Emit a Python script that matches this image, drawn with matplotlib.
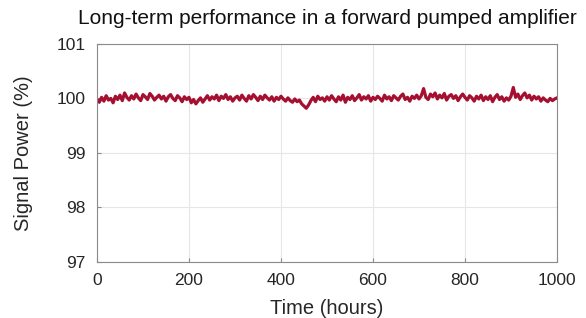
import numpy as np
import matplotlib.pyplot as plt

plt.rcParams['font.family'] = ['Liberation Sans', 'DejaVu Sans']

# time in hours, one reading every 5 h
hours = np.arange(0, 1001, 5)
# signal power (%)
power = [
    99.98, 99.93, 100.02, 99.95, 100.05, 99.97, 100.00, 99.92, 100.04, 99.98, 100.06,
    99.96, 100.10, 100.02, 99.97, 100.05, 99.99, 100.08, 100.01, 99.96, 100.07,
    100.03, 99.98, 100.09, 100.04, 99.97, 100.02, 100.06, 99.99, 100.04, 99.95,
    100.03, 100.07, 100.00, 99.96, 100.05, 100.01, 99.94, 100.03, 99.98, 100.02,
    99.92, 99.98, 99.90, 99.96, 100.01, 99.93, 99.99, 100.05, 99.97, 100.03,
    99.99, 100.06, 99.96, 100.04, 100.00, 100.07, 99.98, 100.03, 99.95, 100.01,
    100.04, 99.97, 100.06, 100.00, 99.95, 100.05, 99.99, 100.07, 100.02, 99.96,
    100.04, 99.98, 100.06, 100.01, 99.97, 100.03, 99.95, 100.02, 99.98, 100.04,
    99.99, 99.95, 100.01, 99.96, 99.93, 99.99, 99.94, 99.97, 99.90, 99.86,
    99.82, 99.88, 99.96, 100.02, 99.94, 100.04, 99.98, 100.01, 99.95, 100.03,
    99.97, 100.05, 99.99, 99.94, 100.03, 99.97, 100.06, 99.93, 100.02, 99.98,
    100.05, 99.96, 100.01, 100.07, 99.97, 100.03, 99.99, 100.05, 99.95, 100.02,
    99.98, 100.04, 100.00, 99.95, 100.06, 99.99, 100.03, 99.96, 100.05, 100.01,
    99.97, 100.04, 100.08, 99.98, 100.02, 99.95, 100.04, 100.00, 100.06, 99.99,
    100.05, 100.18, 100.02, 99.98, 100.08, 100.03, 100.10, 99.99, 100.06, 100.01,
    100.09, 99.97, 100.04, 100.07, 100.00, 100.05, 99.96, 100.03, 100.08, 100.02,
    99.97, 100.05, 100.01, 99.95, 100.04, 99.99, 100.06, 99.96, 100.03, 99.98,
    100.05, 99.94, 100.02, 100.07, 99.98, 100.03, 99.95, 100.01, 99.97, 100.04,
    100.20, 100.02, 100.08, 99.98, 100.05, 100.10, 100.01, 100.06, 99.97, 100.04,
    99.99, 100.03, 99.95, 100.01, 99.97, 99.94, 100.00, 99.96, 99.99, 100.01,
]
xticks = [0, 200, 400, 600, 800, 1000]
yticks = [97, 98, 99, 100, 101]

fig = plt.figure(figsize=(5.86, 3.18), dpi=100)
ax = fig.add_axes([0.1655, 0.176, 0.785, 0.686])

ax.plot(hours, power, color='#A50F30', lw=2.3)

ax.set_xlim(0, 1000)
ax.set_ylim(97, 101)
ax.set_xticks(xticks)
ax.set_yticks(yticks)
ax.grid(color='#e6e6e6', lw=0.8)
ax.set_axisbelow(True)
for s in ax.spines.values():
    s.set_color('#8a8a8a')
    s.set_linewidth(0.8)
ax.tick_params(direction='in', length=3, color='#8a8a8a', labelsize=12.5,
               labelcolor='#262626')
ax.tick_params(axis='x', pad=8)
ax.tick_params(axis='y', pad=8)

ax.set_title('Long-term performance in a forward pumped amplifier',
             fontsize=15, color='#111111', pad=14)
ax.set_xlabel('Time (hours)', fontsize=14.5, color='#262626')
ax.set_ylabel('Signal Power (%)', fontsize=14.5, color='#262626')
ax.xaxis.set_label_coords(0.5, -0.17)
ax.yaxis.set_label_coords(-0.14, 0.5)

fig.savefig('out.png', dpi=100)
